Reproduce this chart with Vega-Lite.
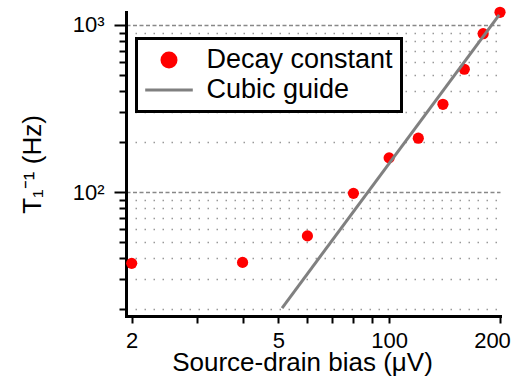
{
  "$schema": "https://vega.github.io/schema/vega-lite/v6.json",
  "width": 374,
  "height": 304,
  "autosize": "none",
  "padding": {"left": 126, "top": 12, "right": 16, "bottom": 73},
  "config": {
    "font": "Liberation Sans",
    "view": {"stroke": null},
    "legend": {"strokeWidth": 3},
    "axis": {
      "domainColor": "black",
      "domainWidth": 3,
      "domainCap": "square",
      "tickColor": "black",
      "tickWidth": 2,
      "labelColor": "black",
      "titleColor": "black",
      "titleFontWeight": "normal",
      "labelOverlap": false,
      "labelBound": false,
      "labelFlush": false
    }
  },
  "encoding": {
    "x": {
      "field": "bias",
      "type": "quantitative",
      "scale": {"type": "log", "domain": [19.3, 200], "nice": false},
      "axis": {
        "values": [20, 30, 40, 50, 60, 70, 80, 90, 100, 200],
        "labelExpr": "datum.value == 20 ? '2' : datum.value == 50 ? '5' : datum.value == 100 ? '100' : datum.value == 200 ? '200' : ''",
        "tickSize": 7,
        "labelFontSize": 22,
        "labelPadding": 7,
        "labelOffset": {"condition": {"test": "datum.value == 200", "value": -8}, "value": 0},
        "grid": false,
        "title": "Source-drain bias (μV)",
        "titleFontSize": 26,
        "titlePadding": -2,
        "titleX": 176
      }
    }
  },
  "layer": [
    {
      "data": {
        "values": [
          {"bias": 20, "rate": 37.4, "series": "Decay constant"},
          {"bias": 40, "rate": 37.9, "series": "Decay constant"},
          {"bias": 60, "rate": 54.6, "series": "Decay constant"},
          {"bias": 80, "rate": 98.2, "series": "Decay constant"},
          {"bias": 100, "rate": 160, "series": "Decay constant"},
          {"bias": 120, "rate": 210, "series": "Decay constant"},
          {"bias": 140, "rate": 335, "series": "Decay constant"},
          {"bias": 160, "rate": 543, "series": "Decay constant"},
          {"bias": 180, "rate": 887, "series": "Decay constant"},
          {"bias": 200, "rate": 1191, "series": "Decay constant"}
        ]
      },
      "mark": {"type": "point", "filled": true, "opacity": 1, "size": 125},
      "encoding": {
        "y": {
          "field": "rate",
          "type": "quantitative",
          "scale": {"type": "log", "domain": [18.1, 1196], "nice": false},
          "axis": {
            "orient": "left",
            "values": [100, 1000],
            "labelExpr": "datum.value == 100 ? '10²' : '10³'",
            "tickSize": 12,
            "labelFontSize": 22,
            "labelPadding": 10,
            "grid": true,
            "gridDash": [4, 2.5],
            "gridColor": "#888888",
            "gridWidth": 1.5,
            "title": "T₁⁻¹ (Hz)",
            "titleFontSize": 26,
            "titlePadding": 27
          }
        },
        "color": {
          "field": "series",
          "type": "nominal",
          "scale": {"domain": ["Decay constant", "Cubic guide"], "range": ["#ff0000", "#808080"]},
          "legend": {
            "title": null,
            "orient": "none",
            "legendX": 10.5,
            "legendY": 26.5,
            "labelFontSize": 27,
            "labelColor": "black",
            "labelLimit": 400,
            "symbolSize": 289,
            "symbolOpacity": 1,
            "padding": 8,
            "rowPadding": 2,
            "symbolOffset": 11,
            "labelOffset": 24,
            "strokeColor": "black",
            "fillColor": "white"
          }
        },
        "shape": {
          "field": "series",
          "type": "nominal",
          "scale": {"domain": ["Decay constant", "Cubic guide"], "range": ["circle", "M-2.8,-0.18H2.8V0.18H-2.8Z"]},
          "legend": {
            "title": null,
            "orient": "none",
            "legendX": 10.5,
            "legendY": 26.5,
            "labelFontSize": 27,
            "labelColor": "black",
            "labelLimit": 400,
            "symbolSize": 289,
            "symbolOpacity": 1,
            "padding": 8,
            "rowPadding": 2,
            "symbolOffset": 11,
            "labelOffset": 24,
            "strokeColor": "black",
            "fillColor": "white"
          }
        }
      }
    },
    {
      "data": {"values": [{"bias": 51.2, "rate": 20.2}, {"bias": 199, "rate": 1150}]},
      "mark": {"type": "line", "color": "#808080", "strokeWidth": 3},
      "encoding": {
        "y": {
          "field": "rate",
          "type": "quantitative",
          "axis": {
            "orient": "left",
            "values": [20, 30, 40, 50, 60, 70, 80, 90, 200, 300, 400, 500, 600, 700, 800, 900],
            "labels": false,
            "tickSize": 7,
            "domain": false,
            "grid": true,
            "gridDash": [1.5, 7.5],
            "gridColor": "#999999",
            "gridWidth": 1.5,
            "title": null
          }
        }
      }
    }
  ],
  "resolve": {"axis": {"y": "independent"}}
}
